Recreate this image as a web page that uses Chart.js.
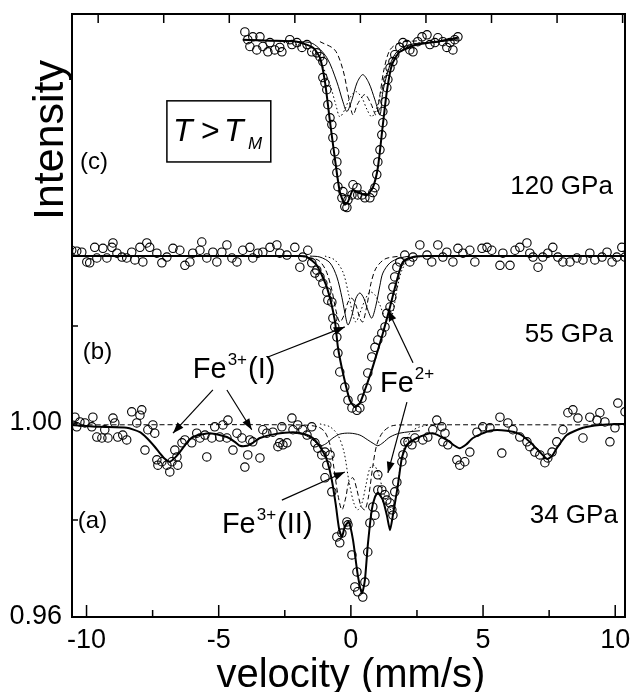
<!DOCTYPE html>
<html>
<head>
<meta charset="utf-8">
<script src="https://cdn.jsdelivr.net/npm/chart.js@4.4.1/dist/chart.umd.min.js"></script>
<style>
  html, body { margin: 0; padding: 0; background: #fff; }
  #wrap { width: 632px; height: 692px; }
</style>
</head>
<body>
<div id="wrap"><canvas id="chart" width="632" height="692"></canvas></div>
<script>
// Mossbauer spectra, velocity (mm/s) vs relative intensity
// spectra (b) and (c) are drawn shifted up by a constant offset
const offsetB = 0.0346;
const offsetC = 0.0790;

// axis ticks
const xMajor = [-10, -5, 0, 5, 10];
const xMinor = [-7.5, -2.5, 2.5, 7.5];
const topTicks = [-9.56, -7.08, -4.6, -2.12, 0.36, 2.84, 5.32, 7.8, 10.28];
const yLabelled = [0.96, 1.00];
const yTickMarks = [0.98, 1.00, 1.02];

// (a) 34 GPa
const spectrumA = [
  [-10.44,1.0012],[-10.37,0.9992],[-10.25,1.0002],[-10.06,1.0000],[-9.80,0.9992],[-9.76,1.0012],[-9.61,0.9971],[-9.42,0.9969],
  [-9.31,0.9986],[-9.19,0.9969],[-9.00,1.0010],[-8.93,1.0000],[-8.82,0.9971],[-8.63,0.9975],[-8.48,0.9965],[-8.29,1.0023],
  [-8.10,1.0000],[-7.98,1.0016],[-7.91,1.0027],[-7.79,0.9944],[-7.68,0.9986],[-7.49,0.9996],[-7.42,0.9979],[-7.34,0.9924],
  [-7.30,0.9913],[-7.15,0.9920],[-6.96,0.9913],[-6.85,0.9899],[-6.77,0.9920],[-6.66,0.9944],[-6.58,0.9930],[-6.55,0.9913],
  [-6.39,0.9959],[-6.28,0.9965],[-6.02,0.9959],[-5.83,0.9979],[-5.71,0.9969],[-5.52,0.9975],[-5.45,0.9930],[-5.26,0.9969],
  [-5.15,0.9992],[-4.96,0.9971],[-4.84,0.9996],[-4.69,0.9969],[-4.65,1.0006],[-4.46,0.9944],[-4.31,0.9979],[-4.12,0.9969],
  [-4.01,0.9909],[-3.90,0.9934],[-3.82,0.9965],[-3.71,0.9961],[-3.44,0.9928],[-3.33,0.9986],[-3.18,0.9979],[-2.95,0.9981],
  [-2.76,0.9951],[-2.69,0.9959],[-2.61,0.9992],[-2.57,0.9955],[-2.42,0.9959],[-2.23,1.0010],[-2.19,0.9986],[-2.01,0.9996],
  [-1.82,0.9986],[-1.66,0.9975],[-1.48,0.9992],[-1.36,0.9959],[-1.25,0.9948],[-1.10,0.9934],[-0.98,0.9940],[-0.91,0.9913],
  [-0.98,0.9887],[-0.79,0.9934],[-0.72,0.9858],[-0.53,0.9765],[-0.42,0.9753],[-0.34,0.9773],[-0.15,0.9796],[-0.11,0.9790],
  [0.04,0.9728],[0.23,0.9693],[0.15,0.9662],[0.26,0.9652],[0.45,0.9641],[0.53,0.9672],[0.64,0.9734],[0.72,0.9794],
  [0.83,0.9827],[0.91,0.9810],[1.02,0.9893],[1.02,0.9862],[1.17,0.9862],[1.29,0.9852],[1.36,0.9841],[1.48,0.9835],
  [1.55,0.9821],[1.59,0.9810],[1.66,0.9858],[1.74,0.9878],[1.93,0.9920],[1.97,0.9934],[2.04,0.9961],[2.16,0.9961],
  [2.31,0.9955],[2.42,0.9969],[2.72,0.9965],[2.91,0.9971],[3.10,0.9986],[3.25,1.0006],[3.44,0.9992],[3.48,0.9961],
  [3.56,0.9979],[3.67,0.9955],[4.01,0.9924],[4.12,0.9913],[4.31,0.9920],[4.50,0.9940],[4.77,0.9981],[4.99,0.9992],
  [5.26,0.9990],[5.64,1.0012],[5.71,0.9938],[5.94,1.0000],[6.13,0.9986],[6.39,0.9971],[6.66,0.9961],[6.77,0.9951],
  [6.96,0.9940],[7.15,0.9934],[7.34,0.9918],[7.45,0.9928],[7.61,0.9940],[7.79,0.9961],[8.02,0.9986],[8.21,1.0021],
  [8.40,1.0027],[8.59,1.0010],[8.78,0.9969],[9.04,1.0012],[9.31,1.0006],[9.42,1.0021],[9.61,1.0002],[9.80,0.9961],
  [9.99,0.9990],[10.10,1.0041],[10.37,1.0023]
];
const fitA = [
  [-10.56,0.9996],[-9.50,0.9992],[-8.48,0.9990],[-7.98,0.9981],[-7.72,0.9969],[-7.42,0.9951],[-7.23,0.9938],[-7.04,0.9926],
  [-6.85,0.9920],[-6.66,0.9928],[-6.47,0.9940],[-6.21,0.9959],[-5.98,0.9971],[-5.33,0.9979],[-4.69,0.9971],[-4.39,0.9961],
  [-4.20,0.9953],[-3.93,0.9953],[-3.71,0.9959],[-3.44,0.9969],[-2.88,0.9977],[-2.19,0.9981],[-1.74,0.9977],[-1.44,0.9969],
  [-1.17,0.9951],[-0.91,0.9924],[-0.72,0.9882],[-0.57,0.9831],[-0.45,0.9783],[-0.34,0.9765],[-0.23,0.9786],[-0.08,0.9796],
  [0.08,0.9759],[0.26,0.9687],[0.42,0.9649],[0.53,0.9676],[0.64,0.9748],[0.79,0.9821],[0.91,0.9847],[1.02,0.9856],
  [1.21,0.9841],[1.36,0.9810],[1.48,0.9779],[1.59,0.9810],[1.78,0.9872],[1.93,0.9928],[2.12,0.9955],[2.50,0.9969],
  [3.10,0.9979],[3.63,0.9965],[3.93,0.9953],[4.12,0.9948],[4.35,0.9955],[4.62,0.9969],[5.26,0.9984],[5.90,0.9984],
  [6.39,0.9977],[6.77,0.9961],[7.15,0.9940],[7.42,0.9926],[7.61,0.9932],[7.79,0.9948],[8.17,0.9975],[8.78,0.9990],
  [9.42,0.9996],[10.37,0.9998]
];
// Fe3+(I) sextet, inner part
const sextetA = [
  [-2.12,0.9979],[-1.74,0.9975],[-1.44,0.9965],[-1.17,0.9953],[-0.95,0.9957],[-0.68,0.9969],[-0.42,0.9977],[-0.04,0.9979],
  [0.34,0.9975],[0.64,0.9965],[0.87,0.9957],[1.02,0.9953],[1.21,0.9959],[1.48,0.9971],[1.85,0.9979],[2.61,0.9984]
];
// Fe3+(II) doublet
const fe3IIA = [
  [-10.56,0.9996],[-1.93,0.9996],[-1.25,0.9992],[-0.98,0.9981],[-0.79,0.9955],[-0.64,0.9907],[-0.49,0.9852],[-0.34,0.9821],
  [-0.19,0.9847],[-0.08,0.9878],[0.08,0.9887],[0.23,0.9862],[0.38,0.9829],[0.53,0.9821],[0.68,0.9852],[0.83,0.9911],
  [0.98,0.9955],[1.21,0.9981],[1.55,0.9994],[2.23,0.9996],[10.37,0.9996]
];
// Fe2+ doublet
const fe2A = [
  [-1.17,0.9998],[-0.79,0.9992],[-0.49,0.9975],[-0.26,0.9940],[-0.08,0.9882],[0.11,0.9835],[0.26,0.9821],[0.42,0.9835],
  [0.57,0.9872],[0.72,0.9907],[0.87,0.9913],[1.02,0.9899],[1.21,0.9862],[1.40,0.9827],[1.55,0.9821],[1.70,0.9847],
  [1.85,0.9903],[2.01,0.9948],[2.23,0.9979],[2.61,0.9992],[3.37,0.9998]
];

// (b) 55 GPa
const spectrumB = [
  [-10.56,1.0010],[-10.37,1.0008],[-10.18,1.0006],[-9.99,0.9986],[-9.88,0.9984],[-9.69,1.0016],[-9.61,0.9994],[-9.38,1.0014],
  [-9.23,0.9994],[-9.04,1.0016],[-9.00,1.0025],[-8.85,1.0004],[-8.66,0.9996],[-8.48,0.9994],[-8.29,1.0006],[-8.17,0.9990],
  [-7.98,1.0016],[-7.87,0.9986],[-7.72,1.0025],[-7.61,1.0016],[-7.34,1.0004],[-7.15,0.9984],[-6.96,0.9996],[-6.73,1.0014],
  [-6.47,1.0010],[-6.28,0.9979],[-6.09,0.9986],[-5.98,1.0004],[-5.71,1.0010],[-5.64,1.0027],[-5.45,0.9994],[-5.22,1.0006],
  [-5.07,0.9986],[-4.88,1.0006],[-4.69,1.0021],[-4.50,0.9994],[-4.31,0.9986],[-4.09,1.0010],[-3.82,1.0016],[-3.71,0.9994],
  [-3.52,1.0004],[-3.33,1.0006],[-3.06,1.0016],[-2.80,1.0021],[-2.69,1.0004],[-2.42,1.0000],[-2.12,1.0016],[-1.93,0.9975],
  [-1.82,0.9996],[-1.63,1.0010],[-1.48,0.9984],[-1.36,0.9963],[-1.29,0.9969],[-1.17,0.9955],[-1.06,0.9942],[-0.91,0.9924],
  [-0.87,0.9907],[-0.72,0.9903],[-0.68,0.9870],[-0.61,0.9852],[-0.53,0.9831],[-0.49,0.9798],[-0.42,0.9759],[-0.23,0.9728],
  [-0.11,0.9701],[0.04,0.9685],[0.23,0.9680],[0.34,0.9685],[0.42,0.9705],[0.61,0.9726],[0.64,0.9757],[0.79,0.9790],
  [0.91,0.9810],[1.02,0.9825],[1.17,0.9839],[1.29,0.9852],[1.36,0.9880],[1.48,0.9893],[1.55,0.9913],[1.59,0.9934],
  [1.66,0.9955],[1.74,0.9975],[1.85,0.9986],[2.04,1.0000],[2.23,0.9986],[2.35,0.9996],[2.61,1.0021],[2.88,1.0000],
  [3.06,0.9986],[3.29,1.0021],[3.48,0.9996],[3.63,1.0006],[3.86,0.9986],[4.05,1.0014],[4.24,1.0004],[4.50,1.0010],
  [4.69,0.9986],[4.96,1.0014],[5.15,1.0016],[5.33,1.0010],[5.64,0.9979],[5.75,1.0004],[6.02,0.9979],[6.21,1.0010],
  [6.39,1.0016],[6.66,1.0025],[6.77,1.0004],[6.89,0.9996],[7.08,0.9975],[7.26,0.9996],[7.45,1.0004],[7.64,1.0016],
  [7.83,0.9996],[8.02,0.9986],[8.29,0.9986],[8.55,0.9994],[8.78,0.9990],[9.04,1.0004],[9.23,0.9990],[9.50,0.9996],
  [9.69,1.0006],[9.88,0.9986],[10.06,0.9996],[10.25,1.0016],[10.37,0.9996]
];
const fitB = [
  [-10.56,0.9998],[-1.93,0.9998],[-1.66,0.9996],[-1.29,0.9979],[-0.91,0.9934],[-0.61,0.9866],[-0.49,0.9810],[-0.30,0.9757],
  [-0.04,0.9701],[0.15,0.9687],[0.34,0.9695],[0.53,0.9722],[0.79,0.9763],[1.02,0.9804],[1.21,0.9839],[1.48,0.9893],
  [1.74,0.9948],[1.97,0.9986],[2.35,0.9996],[2.88,0.9998],[10.37,0.9998]
];
const fe3IB = [
  [-1.55,0.9998],[-1.17,0.9996],[-0.79,0.9984],[-0.53,0.9955],[-0.34,0.9913],[-0.23,0.9882],[-0.11,0.9856],[0.04,0.9876],
  [0.19,0.9911],[0.34,0.9922],[0.49,0.9911],[0.64,0.9887],[0.79,0.9870],[0.95,0.9897],[1.10,0.9938],[1.21,0.9963],
  [1.48,0.9984],[1.85,0.9994],[2.23,0.9998]
];
const fe3IIB = [
  [-1.93,0.9998],[-1.25,0.9990],[-0.95,0.9969],[-0.72,0.9928],[-0.57,0.9887],[-0.42,0.9862],[-0.26,0.9876],[-0.11,0.9903],
  [0.04,0.9911],[0.19,0.9897],[0.34,0.9870],[0.45,0.9862],[0.61,0.9897],[0.76,0.9942],[0.95,0.9973],[1.29,0.9992],
  [1.85,0.9998]
];
const fe2B = [
  [-0.98,0.9998],[-0.61,0.9990],[-0.30,0.9965],[-0.08,0.9918],[0.08,0.9876],[0.19,0.9862],[0.34,0.9880],[0.53,0.9907],
  [0.72,0.9924],[0.91,0.9918],[1.10,0.9897],[1.29,0.9870],[1.44,0.9862],[1.59,0.9882],[1.74,0.9928],[1.93,0.9969],
  [2.23,0.9992],[2.80,0.9998]
];

// (c) 120 GPa
const spectrumC = [
  [-4.01,1.0016],[-3.90,1.0000],[-3.82,0.9986],[-3.71,1.0006],[-3.56,0.9979],[-3.44,1.0006],[-3.33,0.9986],[-3.14,0.9975],
  [-3.06,0.9994],[-2.88,0.9979],[-2.69,0.9984],[-2.61,0.9975],[-2.31,1.0000],[-2.23,0.9990],[-2.04,0.9994],[-1.85,0.9984],
  [-1.66,0.9990],[-1.48,0.9975],[-1.29,0.9973],[-1.17,0.9965],[-1.06,0.9955],[-1.06,0.9922],[-0.98,0.9911],[-0.91,0.9897],
  [-0.87,0.9866],[-0.79,0.9839],[-0.72,0.9825],[-0.68,0.9798],[-0.61,0.9769],[-0.53,0.9748],[-0.53,0.9726],[-0.49,0.9697],
  [-0.34,0.9674],[-0.30,0.9687],[-0.23,0.9656],[-0.15,0.9654],[-0.11,0.9670],[0.04,0.9680],[0.08,0.9701],[0.23,0.9695],
  [0.26,0.9680],[0.42,0.9680],[0.53,0.9674],[0.72,0.9674],[0.83,0.9685],[0.91,0.9695],[0.98,0.9722],[1.02,0.9748],
  [1.10,0.9773],[1.17,0.9804],[1.21,0.9829],[1.21,0.9852],[1.29,0.9872],[1.36,0.9901],[1.40,0.9918],[1.48,0.9942],
  [1.59,0.9955],[1.66,0.9969],[1.85,0.9984],[1.97,0.9994],[2.12,0.9990],[2.23,0.9979],[2.35,0.9975],[2.53,0.9996],
  [2.69,1.0006],[2.88,1.0010],[2.99,0.9990],[3.18,0.9994],[3.29,1.0004],[3.48,0.9996],[3.63,0.9984],[3.75,0.9994],
  [3.86,0.9979],[3.93,1.0000],[4.05,1.0006]
];
const fitC = [
  [-4.09,1.0000],[-3.06,0.9998],[-2.04,0.9996],[-1.44,0.9984],[-1.17,0.9963],[-0.98,0.9913],[-0.79,0.9831],[-0.61,0.9757],
  [-0.42,0.9687],[-0.23,0.9660],[-0.11,0.9666],[0.08,0.9691],[0.26,0.9685],[0.61,0.9680],[0.83,0.9695],[1.02,0.9736],
  [1.21,0.9825],[1.36,0.9893],[1.55,0.9948],[1.85,0.9975],[2.50,0.9990],[3.25,0.9996],[4.05,1.0004]
];
const fe3IC = [
  [-4.09,1.0000],[-2.04,0.9996],[-1.44,0.9992],[-0.91,0.9963],[-0.53,0.9913],[-0.30,0.9872],[-0.15,0.9852],[0.04,0.9876],
  [0.23,0.9911],[0.45,0.9928],[0.68,0.9911],[0.91,0.9876],[1.10,0.9845],[1.21,0.9893],[1.48,0.9948],[1.74,0.9975],
  [2.23,0.9990],[3.37,0.9996],[4.05,1.0000]
];
const fe3IIC = [
  [-2.69,0.9996],[-1.74,0.9984],[-1.17,0.9955],[-0.79,0.9907],[-0.57,0.9866],[-0.42,0.9841],[-0.23,0.9856],[-0.04,0.9880],
  [0.19,0.9893],[0.42,0.9880],[0.61,0.9856],[0.79,0.9841],[0.98,0.9860],[1.17,0.9897],[1.40,0.9938],[1.78,0.9975],
  [2.42,0.9992],[3.37,0.9996]
];
const fe2C = [
  [-1.17,0.9996],[-0.61,0.9979],[-0.30,0.9938],[-0.08,0.9880],[0.08,0.9845],[0.26,0.9868],[0.53,0.9887],[0.76,0.9868],
  [0.95,0.9845],[1.10,0.9887],[1.25,0.9938],[1.48,0.9979],[1.85,0.9994],[2.61,0.9998]
];

const FONT = '"Liberation Sans", Arial, Helvetica, sans-serif';

function pts(arr, off) {
  return arr.map(p => ({ x: p[0], y: p[1] + off }));
}

function scatterSet(arr, off) {
  return {
    data: pts(arr, off), showLine: false,
    pointStyle: 'circle', pointRadius: 4.2, pointBorderWidth: 1.1,
    pointBorderColor: '#000', pointBackgroundColor: 'rgba(255,255,255,0)'
  };
}

function lineSet(arr, off, style) {
  const ds = {
    data: pts(arr, off), showLine: true, pointRadius: 0,
    borderColor: '#000', borderWidth: 1, tension: 0.3, fill: false
  };
  if (style === 'fit') { ds.borderWidth = 2; ds.tension = 0.2; }
  if (style === 'dash') ds.borderDash = [5, 3];
  if (style === 'dot') ds.borderDash = [1.5, 2.5];
  return ds;
}

// text and arrows on top of the plot
const decor = {
  id: 'decor',
  afterDatasetsDraw(chart) {
    const { ctx, chartArea: a, scales } = chart;
    const X = v => scales.x.getPixelForValue(v);
    const Y = v => scales.y.getPixelForValue(v);
    ctx.save();
    ctx.strokeStyle = '#000';
    ctx.fillStyle = '#000';

    // frame
    ctx.lineWidth = 2;
    ctx.strokeRect(a.left, a.top, a.right - a.left, a.bottom - a.top);

    // inward ticks
    ctx.lineWidth = 1.5;
    ctx.beginPath();
    xMajor.forEach(v => { ctx.moveTo(X(v), a.bottom); ctx.lineTo(X(v), a.bottom - 12); });
    xMinor.forEach(v => { ctx.moveTo(X(v), a.bottom); ctx.lineTo(X(v), a.bottom - 7); });
    topTicks.forEach(v => { ctx.moveTo(X(v), a.top); ctx.lineTo(X(v), a.top + 9); });
    yTickMarks.forEach(v => { ctx.moveTo(a.left, Y(v)); ctx.lineTo(a.left + 6, Y(v)); });
    ctx.stroke();

    // axis titles
    ctx.font = '40px ' + FONT;
    ctx.textAlign = 'center';
    ctx.textBaseline = 'alphabetic';
    ctx.fillText('velocity (mm/s)', X(0), 687);
    ctx.save();
    ctx.translate(63, 140);
    ctx.rotate(-Math.PI / 2);
    ctx.font = '43px ' + FONT;
    ctx.fillText('Intensity', 0, 0);
    ctx.restore();

    // panel letters and pressures
    ctx.font = '24px ' + FONT;
    ctx.textAlign = 'left';
    ctx.textBaseline = 'middle';
    ctx.fillText('(c)', X(-10.25), Y(1.0538));
    ctx.fillText('(b)', X(-10.14), Y(1.0146));
    ctx.fillText('(a)', X(-10.33), Y(0.9798));
    ctx.font = '26px ' + FONT;
    ctx.textAlign = 'right';
    ctx.fillText('120 GPa', X(9.91), Y(1.0487));
    ctx.fillText('55 GPa', X(9.91), Y(1.0181));
    ctx.fillText('34 GPa', X(10.10), Y(0.9808));

    // species labels
    function fe(x, y, sup, tail) {
      let px = X(x);
      const py = Y(y);
      ctx.textAlign = 'left';
      ctx.textBaseline = 'alphabetic';
      ctx.font = '29px ' + FONT;
      ctx.fillText('Fe', px, py);
      px += ctx.measureText('Fe').width + 1;
      ctx.font = '17px ' + FONT;
      ctx.fillText(sup, px, py - 13);
      px += ctx.measureText(sup).width + 1;
      ctx.font = '29px ' + FONT;
      if (tail) ctx.fillText(tail, px, py);
    }
    fe(-5.98, 1.0093, '3+', '(I)');
    fe(1.10, 1.0064, '2+', '');
    fe(-4.88, 0.9773, '3+', '(II)');

    // arrows
    ctx.lineWidth = 1.2;
    function arrow(x1, y1, x2, y2) {
      const ax = X(x1), ay = Y(y1), bx = X(x2), by = Y(y2);
      ctx.beginPath(); ctx.moveTo(ax, ay); ctx.lineTo(bx, by); ctx.stroke();
      const t = Math.atan2(by - ay, bx - ax), L = 11, W = 4;
      ctx.beginPath();
      ctx.moveTo(bx, by);
      ctx.lineTo(bx - L * Math.cos(t) + W * Math.sin(t), by - L * Math.sin(t) - W * Math.cos(t));
      ctx.lineTo(bx - L * Math.cos(t) - W * Math.sin(t), by - L * Math.sin(t) + W * Math.cos(t));
      ctx.closePath(); ctx.fill();
    }
    arrow(-5.22, 1.0068, -6.73, 0.9979);
    arrow(-4.69, 1.0068, -3.75, 0.9986);
    arrow(-3.14, 1.0136, -0.23, 1.0198);
    arrow(2.35, 1.0124, 1.40, 1.0233);
    arrow(2.12, 1.0043, 1.40, 0.9897);
    arrow(-2.61, 0.9841, -0.23, 0.9899);

    // T > T_M box
    const bx1 = X(-6.96), bx2 = X(-3.03), by1 = Y(1.0664), by2 = Y(1.0538);
    ctx.lineWidth = 1.5;
    ctx.strokeRect(bx1, by1, bx2 - bx1, by2 - by1);
    const base = by1 + 40;
    ctx.textAlign = 'left';
    ctx.textBaseline = 'alphabetic';
    ctx.font = 'italic 32px ' + FONT;
    ctx.fillText('T', bx1 + 6, base);
    ctx.font = '32px ' + FONT;
    ctx.fillText('>', bx1 + 34, base);
    ctx.font = 'italic 32px ' + FONT;
    ctx.fillText('T', bx1 + 57, base);
    ctx.font = 'italic 17px ' + FONT;
    ctx.fillText('M', bx1 + 81, base + 8);
    ctx.restore();
  }
};

new Chart(document.getElementById('chart'), {
  type: 'scatter',
  data: {
    datasets: [
      lineSet(fitA, 0, 'fit'), lineSet(sextetA, 0, 'solid'), lineSet(fe3IIA, 0, 'dash'), lineSet(fe2A, 0, 'dot'),
      scatterSet(spectrumA, 0),
      lineSet(fitB, offsetB, 'fit'), lineSet(fe3IB, offsetB, 'solid'), lineSet(fe3IIB, offsetB, 'dash'), lineSet(fe2B, offsetB, 'dot'),
      scatterSet(spectrumB, offsetB),
      lineSet(fitC, offsetC, 'fit'), lineSet(fe3IC, offsetC, 'solid'), lineSet(fe3IIC, offsetC, 'dot'), lineSet(fe2C, offsetC, 'dash'),
      scatterSet(spectrumC, offsetC)
    ]
  },
  options: {
    responsive: false,
    animation: false,
    devicePixelRatio: 1,
    events: [],
    layout: { padding: { top: 14, right: 7, left: 0, bottom: 0 } },
    plugins: { legend: { display: false }, tooltip: { enabled: false } },
    scales: {
      x: {
        type: 'linear', position: 'bottom', min: -10.55, max: 10.37,
        grid: { display: false, drawTicks: false },
        border: { display: false },
        afterBuildTicks: s => { s.ticks = xMajor.map(v => ({ value: v })); },
        afterFit: s => { s.height = 75; s.paddingLeft = 0; s.paddingRight = 0; },
        ticks: {
          autoSkip: false, maxRotation: 0, padding: 7, color: '#000',
          font: { family: FONT, size: 27 },
          callback: v => String(v)
        }
      },
      y: {
        type: 'linear', min: 0.96, max: 1.0843,
        grid: { display: false, drawTicks: false },
        border: { display: false },
        afterBuildTicks: s => { s.ticks = yLabelled.map(v => ({ value: v })); },
        afterFit: s => { s.width = 72; s.paddingTop = 0; s.paddingBottom = 0; },
        ticks: {
          padding: 10, color: '#000',
          font: { family: FONT, size: 27 },
          callback: v => v.toFixed(2)
        }
      }
    }
  },
  plugins: [decor]
});
</script>
</body>
</html>
